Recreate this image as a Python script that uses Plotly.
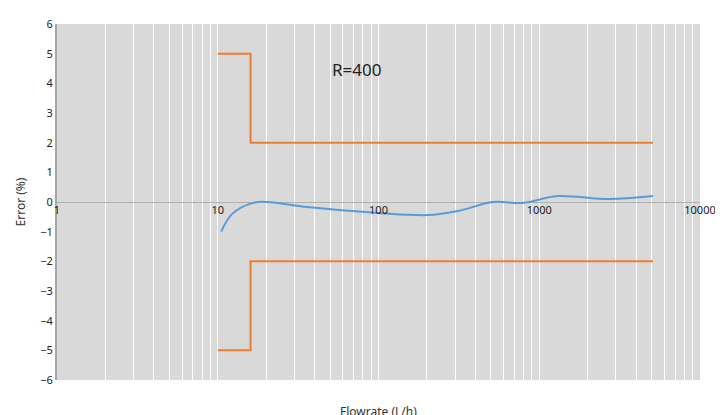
import plotly.graph_objects as go

flow = [10.5, 12.3, 16.6, 20.5, 36, 100, 203, 313, 515, 790, 1300, 2700, 5100]
error = [-1.0, -0.4, -0.03, 0.0, -0.17, -0.37, -0.44, -0.3, 0.0, -0.03, 0.2, 0.1, 0.2]
lim_x = [10, 16, 16, 5100]
upper = [5, 5, 2, 2]
lower = [-5, -5, -2, -2]
xticks = [1, 10, 100, 1000, 10000]

fig = go.Figure()
fig.add_trace(go.Scatter(x=lim_x, y=upper, mode="lines", line=dict(color="#ed7d31", width=2)))
fig.add_trace(go.Scatter(x=lim_x, y=lower, mode="lines", line=dict(color="#ed7d31", width=2)))
fig.add_trace(go.Scatter(x=flow, y=error, mode="lines", line=dict(color="#5b9bd5", width=2, shape="spline", smoothing=1.0)))

fig.update_layout(
    width=723, height=415, showlegend=False,
    margin=dict(l=49, r=31, t=16, b=43, autoexpand=False),
    paper_bgcolor="white", plot_bgcolor="#d9d9d9",
    font=dict(family="Noto Sans", size=12, color="#333"),
    xaxis=dict(type="log", range=[0, 4], tickvals=xticks, ticktext=[str(v) for v in xticks],
               anchor="free", position=0.5, showline=False, ticks="", automargin=False,
               showgrid=True, gridcolor="white", gridwidth=1,
               minor=dict(showgrid=True, gridcolor="white", gridwidth=1, dtick="D1"),
               zeroline=False, tickfont=dict(size=11, color="#222")),
    yaxis=dict(range=[-6, 6], dtick=1, showgrid=False, zeroline=True, zerolinecolor="#b0b0b0",
               zerolinewidth=1, showline=True, linecolor="#a6a6a6", linewidth=2, ticks="",
               automargin=False,
               title=dict(text="Error (%)", font=dict(size=12), standoff=12),
               tickfont=dict(size=11, color="#222")),
    annotations=[
        dict(text="Flowrate (L/h)", x=0.5, y=-0.06, xref="paper", yref="paper",
             showarrow=False, yanchor="top", font=dict(size=12)),
        dict(text="R=400", x=1.7, y=4.45, xref="x", yref="y", showarrow=False,
             xanchor="left", font=dict(size=17, color="#222")),
    ],
)
fig.write_html("out.html")
